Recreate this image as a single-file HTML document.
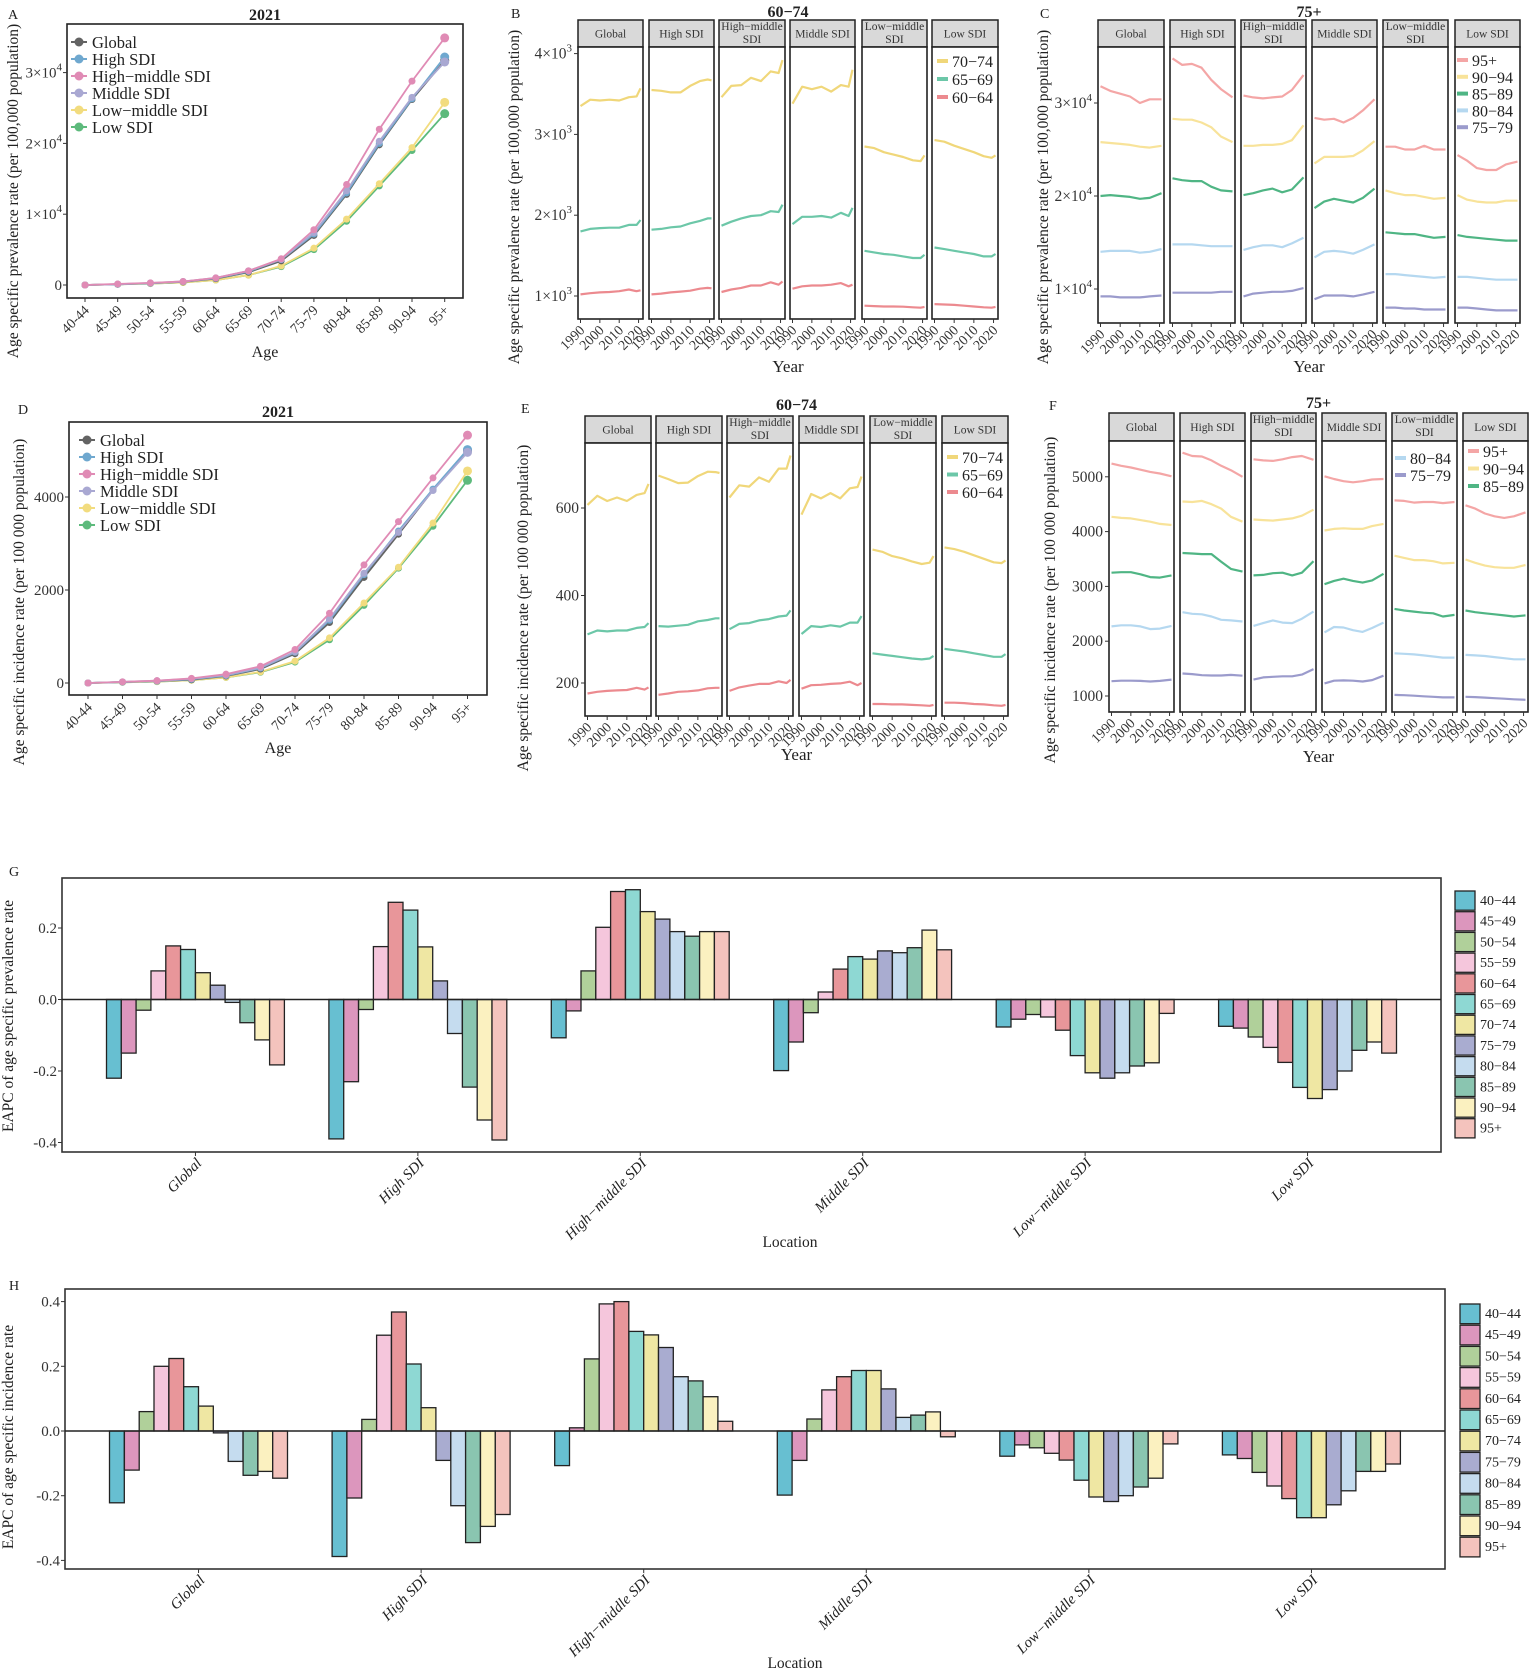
<!DOCTYPE html>
<html><head><meta charset="utf-8"><style>
html,body{margin:0;padding:0;background:#fff}
svg{display:block;font-family:"Liberation Serif",serif}
</style></head><body>
<svg id="s" xmlns="http://www.w3.org/2000/svg" width="1535" height="1677" viewBox="0 0 1535 1677"><rect width="1535" height="1677" fill="#fff"/></svg>
<script>
const NS='http://www.w3.org/2000/svg',S=document.getElementById('s');
function E(t,a,p){const e=document.createElementNS(NS,t);for(const k in a)e.setAttribute(k,a[k]);(p||S).appendChild(e);return e;}
function T(x,y,s,a){const e=E('text',Object.assign({x:x,y:y,fill:'#222'},a||{}));e.textContent=s;return e;}
function SUP(x,y,b,ex,a){const e=E('text',Object.assign({x:x,y:y,fill:'#333'},a||{}));const t1=document.createElementNS(NS,'tspan');t1.textContent=b;e.appendChild(t1);const t2=document.createElementNS(NS,'tspan');t2.setAttribute('dy','-7');t2.setAttribute('font-size','11');t2.textContent=ex;e.appendChild(t2);return e;}
function ROT(x,y,s,a){return T(x,y,s,Object.assign({'text-anchor':'middle',transform:'rotate(-90 '+x+' '+y+')'},a));}
const ages=['40-44','45-49','50-54','55-59','60-64','65-69','70-74','75-79','80-84','85-89','90-94','95+'];
const locs=['Global','High SDI','High−middle SDI','Middle SDI','Low−middle SDI','Low SDI'];
const lc=['#636363','#6fa8cf','#e08bb5','#a9a8d2','#f2dc7f','#5dba7c'];

function lineChart(o){
 const [x0,y0,x1,y1]=o.box;
 E('rect',{x:x0,y:y0,width:x1-x0,height:y1-y0,fill:'none',stroke:'#222','stroke-width':1.6});
 const X=i=>o.xa+i*o.xs,Y=v=>o.yz-v*o.yu;
 o.ticks.forEach(t=>{const y=Y(t[0]);E('line',{x1:x0-4,x2:x0,y1:y,y2:y,stroke:'#333'});
  if(t[2])SUP(x0-5,y+5,t[1],t[2],{'text-anchor':'end','font-size':15});else T(x0-5,y+5,t[1],{'text-anchor':'end','font-size':15,fill:'#333'});});
 ages.forEach((a,i)=>{const x=X(i);E('line',{x1:x,x2:x,y1:y1,y2:y1+4,stroke:'#333'});
  T(x+5,y1+13,a,{'text-anchor':'end','font-size':14,fill:'#333',transform:'rotate(-45 '+(x+5)+' '+(y1+13)+')'});});
 const order=[5,4,0,1,3,2];
 order.forEach(k=>{const d=o.data[k];E('polyline',{points:d.map((v,i)=>X(i)+','+Y(v)).join(' '),fill:'none',stroke:lc[k],'stroke-width':1.8});
  d.forEach((v,i)=>E('circle',{cx:X(i),cy:Y(v),r:i==11?4.5:3.5,fill:lc[k]}));});
 locs.forEach((l,i)=>{const y=o.lg[1]+i*o.lg[2];E('line',{x1:o.lg[0]-8,x2:o.lg[0]+8,y1:y,y2:y,stroke:lc[i],'stroke-width':2});E('circle',{cx:o.lg[0],cy:y,r:4.5,fill:lc[i]});
  T(o.lg[0]+13,y+6,l.replace('−','−'),{'font-size':16.5});});
 T((x0+x1)/2,o.ty,'2021',{'text-anchor':'middle','font-size':16,'font-weight':'bold'});
 T((x0+x1)/2,o.ay,'Age',{'text-anchor':'middle','font-size':16});
 ROT(o.yl[0],o.yl[1],o.ylab,{'font-size':15.5});
 T(o.pl[0],o.pl[1],o.pl[2],{'font-size':14});
}
lineChart({box:[67,24,463,298],xa:85,xs:32.7,yz:285,yu:70.8,
 ticks:[[0,'0'],[1,'1×10','4'],[2,'2×10','4'],[3,'3×10','4']],
 data:[[0,0.01,0.025,0.045,0.09,0.18,0.34,0.7,1.28,1.98,2.62,3.17],
 [0,0.01,0.025,0.047,0.095,0.19,0.36,0.72,1.3,2.0,2.63,3.22],
 [0,0.015,0.03,0.05,0.1,0.2,0.37,0.78,1.42,2.2,2.88,3.49],
 [0,0.012,0.028,0.05,0.1,0.2,0.36,0.74,1.33,2.03,2.65,3.15],
 [0,0.01,0.02,0.035,0.07,0.14,0.27,0.52,0.93,1.43,1.94,2.58],
 [0,0.01,0.02,0.035,0.07,0.14,0.26,0.5,0.9,1.4,1.9,2.42]],
 lg:[79,42,17],ty:20,ay:357,yl:[18,191],ylab:'Age specific prevalence rate (per 100,000 population)',pl:[8,19,'A']});
lineChart({box:[69,422,487,695],xa:88,xs:34.5,yz:683,yu:46.5,
 ticks:[[0,'0'],[2,'2000'],[4,'4000']],
 data:[[0,0.02,0.04,0.07,0.15,0.3,0.63,1.3,2.27,3.2,4.15,5.0],
 [0,0.02,0.04,0.08,0.16,0.32,0.66,1.35,2.33,3.27,4.17,5.02],
 [0,0.025,0.05,0.1,0.19,0.36,0.72,1.5,2.54,3.47,4.41,5.33],
 [0,0.025,0.05,0.09,0.17,0.33,0.67,1.38,2.36,3.24,4.14,4.96],
 [0,0.015,0.03,0.06,0.12,0.24,0.47,0.97,1.72,2.49,3.44,4.56],
 [0,0.015,0.03,0.06,0.12,0.23,0.45,0.93,1.67,2.47,3.37,4.36]],
 lg:[87,440,17],ty:417,ay:753,yl:[24,602],ylab:'Age specific incidence rate (per 100 000 population)',pl:[18,414,'D']});

const strips=[['Global'],['High SDI'],['High−middle','SDI'],['Middle SDI'],['Low−middle','SDI'],['Low SDI']];
function facet(o){
 const yrs=o.yrs;
 o.panels.forEach((p,pi)=>{const [a,b]=p;
  E('rect',{x:a,y:o.st,width:b-a,height:o.sb-o.st,fill:'#d9d9d9',stroke:'#222','stroke-width':1.5});
  const s=strips[pi];
  if(s.length==1)T((a+b)/2,(o.st+o.sb)/2+4,s[0],{'text-anchor':'middle','font-size':11.5,fill:'#333'});
  else{T((a+b)/2,o.st+10,s[0],{'text-anchor':'middle','font-size':11.5,fill:'#333'});T((a+b)/2,o.st+23,s[1],{'text-anchor':'middle','font-size':11.5,fill:'#333'});}
  E('rect',{x:a,y:o.sb,width:b-a,height:o.bot-o.sb,fill:'#fff',stroke:'#222','stroke-width':1.6});
  const X=yr=>a+2.5+(yr-1990)/31*(b-a-5);
  [1990,2000,2010,2020].forEach(yr=>{const x=X(yr);E('line',{x1:x,x2:x,y1:o.bot,y2:o.bot+4,stroke:'#333'});
   T(x+5,o.bot+12,String(yr),{'text-anchor':'end','font-size':14,fill:'#333',transform:'rotate(-45 '+(x+5)+' '+(o.bot+12)+')'});});
  o.series.forEach(se=>{const d=se.d[pi];E('polyline',{points:d.map((v,i)=>X(yrs[i]).toFixed(1)+','+o.Y(v).toFixed(1)).join(' '),fill:'none',stroke:se.c,'stroke-width':2.2,'stroke-linejoin':'round'});});
 });
 const x0=o.panels[0][0];
 o.ticks.forEach(t=>{const y=o.Y(t[0]);E('line',{x1:x0-4,x2:x0,y1:y,y2:y,stroke:'#333'});
  if(t[2])SUP(x0-6,y+5,t[1],t[2],{'text-anchor':'end','font-size':15.5});else T(x0-6,y+5,t[1],{'text-anchor':'end','font-size':15.5,fill:'#333'});});
 o.legends.forEach(L=>{L.items.forEach((it,i)=>{const y=L.y+i*L.dy;E('line',{x1:L.x,x2:L.x+11,y1:y,y2:y,stroke:it[1],'stroke-width':4});T(L.x+15,y+6,it[0],{'font-size':16});});});
 const cx=(o.panels[0][0]+o.panels[5][1])/2;
 T(cx,o.ty,o.title,{'text-anchor':'middle','font-size':16,'font-weight':'bold'});
 T(cx,o.yy,'Year',{'text-anchor':'middle','font-size':17});
 ROT(o.yl[0],o.yl[1],o.ylab,{'font-size':15.5});
 T(o.pl[0],o.pl[1],o.pl[2],{'font-size':14});
}
const c7074='#f0d77a',c6569='#6cc7a8',c6064='#ec8a8f';
const c95='#f4a6a6',c90='#f8e39a',c85='#4fb584',c80='#b5d8f0',c75='#9b9bcc';
const Y8=[1990,1995,2000,2005,2010,2015,2019,2021],Y7=[1990,1995,2000,2005,2010,2015,2021];
facet({panels:[[578,643],[649,714],[719,785],[790,855],[862,927],[932,998]],st:20,sb:47,bot:319,yrs:Y8,
 Y:v=>296-(v-1000)*0.0808,
 ticks:[[1000,'1×10','3'],[2000,'2×10','3'],[3000,'3×10','3'],[4000,'4×10','3']],
 series:[{c:c7074,d:[[3350,3430,3420,3430,3420,3460,3470,3570],[3550,3540,3520,3520,3600,3660,3680,3670],[3460,3600,3610,3700,3660,3780,3760,3920],[3380,3590,3560,3590,3530,3610,3590,3800],[2850,2830,2780,2750,2720,2680,2670,2740],[2930,2910,2860,2820,2780,2730,2710,2740]]},
 {c:c6569,d:[[1800,1830,1840,1845,1845,1880,1880,1940],[1820,1830,1850,1860,1900,1930,1960,1960],[1870,1920,1960,1990,2000,2050,2040,2130],[1890,1980,1980,1990,1970,2030,1990,2090],[1560,1540,1520,1510,1490,1470,1470,1510],[1600,1580,1560,1540,1520,1490,1490,1520]]},
 {c:c6064,d:[[1020,1035,1045,1050,1060,1080,1060,1070],[1020,1030,1045,1055,1065,1090,1100,1095],[1050,1080,1100,1130,1130,1170,1140,1180],[1090,1120,1130,1130,1140,1160,1120,1140],[880,875,870,870,868,860,855,865],[900,895,890,880,870,860,855,865]]}],
 legends:[{x:937,y:61,dy:18,items:[['70−74',c7074],['65−69',c6569],['60−64',c6064]]}],
 title:'60−74',ty:17,yy:372,yl:[519,197],ylab:'Age specific prevalence rate (per 100,000 population)',pl:[511,18,'B']});
facet({panels:[[1098,1164],[1170,1235],[1241,1306],[1312,1377],[1383,1448],[1455,1520]],st:20,sb:47,bot:323,yrs:Y7,
 Y:v=>289-(v-1)*93,
 ticks:[[1,'1×10','4'],[2,'2×10','4'],[3,'3×10','4']],
 series:[{c:c95,d:[[3.18,3.13,3.1,3.07,3.0,3.04,3.04],[3.48,3.41,3.42,3.38,3.25,3.15,3.06],[3.08,3.06,3.05,3.06,3.07,3.14,3.3],[2.84,2.82,2.83,2.79,2.84,2.92,3.04],[2.53,2.53,2.5,2.5,2.54,2.5,2.5],[2.44,2.38,2.3,2.28,2.28,2.34,2.37]]},
 {c:c90,d:[[2.58,2.57,2.56,2.55,2.53,2.52,2.54],[2.83,2.82,2.82,2.79,2.74,2.64,2.58],[2.54,2.54,2.55,2.55,2.56,2.6,2.76],[2.35,2.42,2.42,2.42,2.43,2.49,2.59],[2.06,2.03,2.01,2.01,1.99,1.97,1.98],[2.01,1.96,1.94,1.93,1.93,1.95,1.95]]},
 {c:c85,d:[[2.0,2.01,2.0,1.99,1.97,1.98,2.03],[2.19,2.17,2.16,2.16,2.1,2.06,2.05],[2.01,2.03,2.06,2.08,2.04,2.07,2.2],[1.87,1.94,1.97,1.95,1.93,1.98,2.08],[1.61,1.6,1.59,1.59,1.57,1.55,1.56],[1.58,1.56,1.55,1.54,1.53,1.52,1.52]]},
 {c:c80,d:[[1.4,1.41,1.41,1.41,1.39,1.4,1.43],[1.48,1.48,1.48,1.47,1.46,1.46,1.46],[1.42,1.45,1.47,1.47,1.45,1.49,1.55],[1.34,1.4,1.41,1.4,1.38,1.42,1.48],[1.16,1.16,1.15,1.14,1.13,1.12,1.13],[1.13,1.13,1.12,1.11,1.1,1.1,1.1]]},
 {c:c75,d:[[0.92,0.92,0.91,0.91,0.91,0.92,0.93],[0.96,0.96,0.96,0.96,0.96,0.97,0.97],[0.92,0.95,0.96,0.97,0.97,0.98,1.01],[0.89,0.93,0.93,0.93,0.92,0.94,0.97],[0.8,0.8,0.79,0.79,0.78,0.78,0.78],[0.8,0.8,0.79,0.78,0.77,0.77,0.77]]}],
 legends:[{x:1457,y:60,dy:16.8,items:[['95+',c95],['90−94',c90],['85−89',c85],['80−84',c80],['75−79',c75]]}],
 title:'75+',ty:17,yy:372,yl:[1048,197],ylab:'Age specific prevalence rate (per 100,000 population)',pl:[1040,18,'C']});
facet({panels:[[585,651],[656,722],[727,793],[799,864],[870,936],[942,1008]],st:416,sb:443,bot:716,yrs:Y8,
 Y:v=>683-(v-200)*0.4375,
 ticks:[[200,'200'],[400,'400'],[600,'600']],
 series:[{c:c7074,d:[[607,628,616,624,616,630,634,655],[674,666,657,658,673,683,682,680],[624,652,649,670,660,690,690,720],[585,632,622,634,622,645,648,672],[505,500,490,485,478,472,475,490],[510,506,500,492,484,476,474,480]]},
 {c:c6569,d:[[311,320,318,320,320,326,328,337],[330,329,331,333,341,344,348,348],[323,335,337,343,346,352,354,366],[312,330,328,332,329,338,338,353],[268,265,262,259,256,254,256,262],[278,275,272,268,264,260,260,266]]},
 {c:c6064,d:[[176,180,182,183,184,189,185,190],[173,176,180,181,183,188,189,189],[182,190,194,198,198,204,200,207],[187,195,196,198,199,203,195,200],[152,152,151,151,150,149,148,150],[155,155,154,152,151,149,148,150]]}],
 legends:[{x:947,y:457,dy:17.5,items:[['70−74',c7074],['65−69',c6569],['60−64',c6064]]}],
 title:'60−74',ty:410,yy:760,yl:[528,608],ylab:'Age specific incidence rate (per 100 000 population)',pl:[521,413,'E']});
facet({panels:[[1109,1174],[1180,1245],[1251,1316],[1322,1386],[1392,1457],[1463,1528]],st:413,sb:441,bot:712,yrs:Y7,
 Y:v=>696-(v-1000)*0.0548,
 ticks:[[1000,'1000'],[2000,'2000'],[3000,'3000'],[4000,'4000'],[5000,'5000']],
 series:[{c:c95,d:[[5240,5200,5170,5130,5090,5060,5010],[5440,5380,5370,5300,5200,5120,5000],[5320,5300,5290,5320,5360,5380,5310],[5010,4960,4920,4900,4920,4950,4960],[4570,4560,4530,4540,4540,4520,4540],[4480,4420,4330,4280,4250,4280,4350]]},
 {c:c90,d:[[4270,4250,4240,4210,4180,4140,4120],[4550,4540,4560,4500,4420,4270,4180],[4220,4210,4200,4220,4240,4290,4400],[4020,4050,4060,4050,4050,4100,4140],[3560,3520,3480,3480,3460,3420,3430],[3490,3430,3380,3350,3340,3340,3390]]},
 {c:c85,d:[[3250,3260,3260,3220,3170,3160,3200],[3610,3600,3590,3590,3450,3320,3270],[3200,3210,3240,3250,3200,3250,3460],[3040,3100,3140,3100,3070,3110,3230],[2590,2560,2540,2520,2510,2450,2480],[2560,2530,2510,2490,2470,2450,2470]]},
 {c:c80,d:[[2270,2290,2290,2270,2220,2230,2280],[2530,2500,2490,2450,2390,2380,2360],[2280,2330,2380,2340,2330,2410,2540],[2160,2260,2250,2200,2170,2240,2340],[1780,1770,1760,1740,1720,1700,1700],[1750,1740,1730,1710,1690,1670,1670]]},
 {c:c75,d:[[1270,1280,1280,1275,1265,1275,1300],[1410,1400,1380,1375,1375,1385,1370],[1300,1340,1350,1360,1360,1390,1490],[1230,1280,1285,1280,1265,1290,1370],[1020,1015,1005,995,985,975,975],[985,980,970,960,950,940,930]]}],
 legends:[{x:1395,y:458,dy:17,items:[['80−84',c80],['75−79',c75]]},{x:1468,y:451,dy:17.5,items:[['95+',c95],['90−94',c90],['85−89',c85]]}],
 title:'75+',ty:408,yy:762,yl:[1055,600],ylab:'Age specific incidence rate (per 100 000 population)',pl:[1049,410,'F']});

const bc=['#67bfd1','#dc96bd','#b0d09a','#f5c6dc','#e8969a','#8ed8d3','#efe7a3','#a9acd0','#c5dcef','#8ac5b0','#fbf1c0','#f4c3bd'];
function bars(o){
 const [x0,y0,x1,y1]=o.box,u=(x1-x0)/6.2,bw=0.8*u/12,Y=v=>o.yz-v*o.yu;
 E('rect',{x:x0,y:y0,width:x1-x0,height:y1-y0,fill:'#fff',stroke:'#333','stroke-width':1.6});
 o.data.forEach((g,gi)=>{const c=x0+(0.6+gi)*u;
  g.forEach((v,i)=>{const x=c-0.4*u+i*bw,y=Math.min(Y(v),o.yz),h=Math.abs(v*o.yu);
   E('rect',{x:x.toFixed(1),y:y.toFixed(1),width:bw.toFixed(1),height:h.toFixed(1),fill:bc[i],stroke:'#222','stroke-width':1.3});});
  E('line',{x1:c,x2:c,y1:y1,y2:y1+4,stroke:'#333'});
  T(c+7,y1+12,locs[gi],{'text-anchor':'end','font-size':15,'font-style':'italic',fill:'#222',transform:'rotate(-45 '+(c+7)+' '+(y1+12)+')'});
 });
 E('line',{x1:x0,x2:x1,y1:o.yz,y2:o.yz,stroke:'#222','stroke-width':1.6});
 o.ticks.forEach(t=>{const y=Y(t);E('line',{x1:x0-4,x2:x0,y1:y,y2:y,stroke:'#333'});T(x0-5,y+5,(t<0?'-':'')+Math.abs(t).toFixed(1),{'text-anchor':'end','font-size':15,fill:'#333'});});
 ages.forEach((a,i)=>{const y=o.lg[1]+i*o.lg[2];E('rect',{x:o.lg[0],y:y,width:20,height:o.lg[2]-1.5,fill:bc[i],stroke:'#222','stroke-width':1.3});T(o.lg[0]+25,y+14,a.replace('-','−'),{'font-size':14,fill:'#222'});});
 ROT(o.yl[0],o.yl[1],o.ylab,{'font-size':15.5});
 T(o.loc[0],o.loc[1],'Location',{'text-anchor':'middle','font-size':15.5});
 T(o.pl[0],o.pl[1],o.pl[2],{'font-size':14});
}
bars({box:[62,878,1441,1152],yz:999.5,yu:357.5,ticks:[0.2,0,-0.2,-0.4],
 data:[[-0.22,-0.15,-0.03,0.08,0.15,0.14,0.075,0.04,-0.008,-0.065,-0.113,-0.183],
 [-0.39,-0.23,-0.028,0.148,0.272,0.25,0.147,0.052,-0.095,-0.245,-0.337,-0.393],
 [-0.107,-0.032,0.08,0.202,0.302,0.307,0.246,0.225,0.19,0.177,0.19,0.19],
 [-0.199,-0.119,-0.037,0.021,0.085,0.12,0.113,0.136,0.131,0.145,0.194,0.139],
 [-0.077,-0.055,-0.042,-0.049,-0.086,-0.157,-0.205,-0.22,-0.205,-0.186,-0.177,-0.039],
 [-0.075,-0.08,-0.105,-0.134,-0.176,-0.246,-0.277,-0.252,-0.2,-0.142,-0.119,-0.15]],
 lg:[1455,891,20.7],yl:[13,1016],ylab:'EAPC of age specific prevalence rate',loc:[790,1247],pl:[9,876,'G']});
bars({box:[65,1289,1445,1569],yz:1431,yu:323.5,ticks:[0.4,0.2,0,-0.2,-0.4],
 data:[[-0.222,-0.121,0.06,0.2,0.224,0.137,0.077,-0.006,-0.094,-0.137,-0.125,-0.146],
 [-0.388,-0.207,0.036,0.296,0.368,0.207,0.072,-0.091,-0.231,-0.345,-0.295,-0.258],
 [-0.107,0.01,0.223,0.393,0.4,0.308,0.297,0.258,0.168,0.155,0.106,0.03],
 [-0.198,-0.091,0.037,0.127,0.168,0.187,0.187,0.13,0.042,0.049,0.059,-0.018],
 [-0.078,-0.043,-0.052,-0.069,-0.09,-0.152,-0.204,-0.218,-0.2,-0.173,-0.146,-0.04],
 [-0.074,-0.085,-0.128,-0.17,-0.209,-0.268,-0.268,-0.228,-0.185,-0.125,-0.125,-0.102]],
 lg:[1460,1304,21.2],yl:[13,1437],ylab:'EAPC of age specific incidence rate',loc:[795,1668],pl:[9,1290,'H']});
</script>
</body></html>
